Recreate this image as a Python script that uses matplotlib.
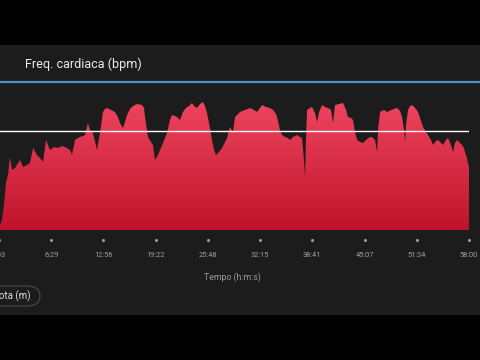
import matplotlib
matplotlib.use("Agg")
import matplotlib.pyplot as plt
import matplotlib.transforms as mtransforms
from matplotlib.patches import FancyBboxPatch
from matplotlib.colors import LinearSegmentedColormap
import numpy as np

# ---- data (time in seconds, heart rate in bpm) ----
time_s = [10, 25, 40, 55, 70, 84, 99, 121, 144, 158,
          181, 210, 232, 255, 284, 306, 329, 351, 380, 410,
          439, 469, 506, 528, 543, 565, 587, 602, 624, 639,
          661, 676, 698, 728, 750, 772, 787, 802, 832, 861,
          883, 898, 920, 935, 950, 972, 994, 1024, 1061, 1076,
          1083, 1105, 1127, 1142, 1157, 1179, 1194, 1216, 1246, 1268,
          1283, 1305, 1320, 1342, 1364, 1386, 1409, 1431, 1446, 1468,
          1490, 1512, 1527, 1542, 1564, 1579, 1594, 1608, 1631, 1653,
          1675, 1690, 1705, 1712, 1734, 1749, 1771, 1786, 1823, 1860,
          1889, 1912, 1934, 1949, 1978, 2008, 2030, 2052, 2060, 2082,
          2097, 2119, 2141, 2156, 2178, 2208, 2230, 2245, 2259, 2267,
          2274, 2282, 2304, 2319, 2341, 2356, 2371, 2393, 2415, 2437,
          2459, 2474, 2489, 2519, 2548, 2571, 2585, 2608, 2622, 2637,
          2652, 2674, 2696, 2726, 2748, 2763, 2785, 2800, 2807, 2822,
          2851, 2874, 2903, 2925, 2948, 2970, 2985, 3000, 3007, 3014,
          3029, 3044, 3059, 3081, 3103, 3118, 3140, 3162, 3177, 3199,
          3214, 3236, 3251, 3273, 3288, 3310, 3325, 3347, 3362, 3376,
          3391, 3413, 3428, 3443, 3450, 3465, 3472, 3480]
hr_bpm = [44, 50, 65, 88, 95, 113, 100, 102, 107, 110,
          103, 105, 107, 122, 115, 112, 108, 130, 120, 123,
          122, 124, 122, 120, 115, 130, 132, 133, 134, 135,
          147, 140, 137, 120, 137, 158, 161, 162, 160, 158,
          153, 147, 142, 148, 155, 161, 164, 166, 165, 162,
          153, 133, 128, 125, 110, 115, 120, 127, 137, 150,
          155, 154, 153, 150, 158, 162, 164, 167, 164, 162,
          166, 168, 164, 157, 142, 130, 120, 115, 118, 122,
          128, 132, 140, 143, 138, 153, 156, 158, 160, 162,
          160, 158, 162, 165, 163, 162, 160, 156, 153, 140,
          135, 133, 132, 130, 133, 135, 133, 132, 110, 93,
          130, 160, 162, 163, 157, 148, 158, 165, 163, 162,
          160, 147, 165, 166, 167, 160, 153, 152, 150, 138,
          130, 128, 127, 131, 133, 133, 130, 118, 140, 158,
          160, 158, 160, 161, 162, 159, 153, 140, 128, 145,
          160, 164, 165, 162, 158, 152, 143, 138, 135, 130,
          125, 129, 130, 127, 125, 130, 132, 125, 118, 127,
          130, 127, 125, 122, 118, 112, 107, 103]

avg_bpm = 139
x_ticks = [3, 389, 776, 1162, 1548, 1935, 2321, 2707, 3094, 3480]
x_ticklabels = ["0:03", "6:29", "12:56", "19:22", "25:48", "32:15", "38:41", "45:07", "51:34", "58:00"]
y_min, y_max = 40, 187

W, H = 480, 360
fig = plt.figure(figsize=(4.8, 3.6), dpi=100)
fig.patch.set_facecolor("#000000")

# panel background
panel = fig.add_axes([0, (360 - 315) / H, 1, (315 - 45) / H])
panel.set_facecolor("#1c1c1c")
panel.set_xticks([]); panel.set_yticks([])
for s in panel.spines.values():
    s.set_visible(False)

# title + blue separator
fig.text(25 / W, 1 - 64 / H, "Freq. cardiaca (bpm)", color="#ececec", fontsize=9,
         family="Roboto", ha="left", va="center")
fig.add_artist(plt.Line2D([0, 1], [1 - 81.5 / H, 1 - 81.5 / H], color="#4b8fc4", lw=1.6))

# main chart axes
ax = fig.add_axes([-1 / W, (360 - 230) / H, 470 / W, 147 / H])
ax.set_facecolor("none")

t = np.array(time_s, dtype=float)
h = np.array(hr_bpm, dtype=float)
poly = ax.fill_between(t, y_min, h, facecolor="none", edgecolor="none", lw=0)
grad = np.linspace(1, 0, 256).reshape(-1, 1)
cmap = LinearSegmentedColormap.from_list("hr", ["#c0132b", "#ef4660"])
img = ax.imshow(grad, aspect="auto", cmap=cmap, vmin=0, vmax=1,
                extent=[x_ticks[0], x_ticks[-1], y_min, max(hr_bpm) + 3], origin="upper",
                zorder=1)
img.set_clip_path(poly.get_paths()[0], transform=ax.transData)
ax.set_ylim(y_min, y_max)
ax.set_xlim(x_ticks[0], x_ticks[-1])

ax.axhline(avg_bpm, color="#ffffff", lw=1.0, zorder=3)

for s in ax.spines.values():
    s.set_visible(False)
ax.set_yticks([])
ax.set_xticks(x_ticks)
ax.set_xticklabels(x_ticklabels, family="Roboto", fontsize=5.3, color="#a0a0a0")
ax.tick_params(axis="x", length=0, pad=16)

# tick dots
trans = mtransforms.blended_transform_factory(ax.transData, ax.transAxes)
ax.scatter(x_ticks, [-10 / 147] * len(x_ticks), s=5, color="#9a9a9a", transform=trans,
           clip_on=False, zorder=4, lw=0)

fig.text(232 / W, 1 - 277 / H, "Tempo (h:m:s)", color="#9a9a9a", fontsize=6.3,
         family="Roboto", ha="center", va="center")

# "Quota (m)" pill button
pill = FancyBboxPatch((-30 / W, 1 - 306 / H), 70 / W, 20 / H,
                      boxstyle="round,pad=0,rounding_size=0.028",
                      transform=fig.transFigure, facecolor="none",
                      edgecolor="#4a4a4a", lw=0.8)
fig.add_artist(pill)
fig.text(-13 / W, 1 - 296 / H, "Quota (m)", color="#e0e0e0", fontsize=7,
         family="Roboto", ha="left", va="center")

fig.savefig("out.png", dpi=100, facecolor=fig.get_facecolor())
